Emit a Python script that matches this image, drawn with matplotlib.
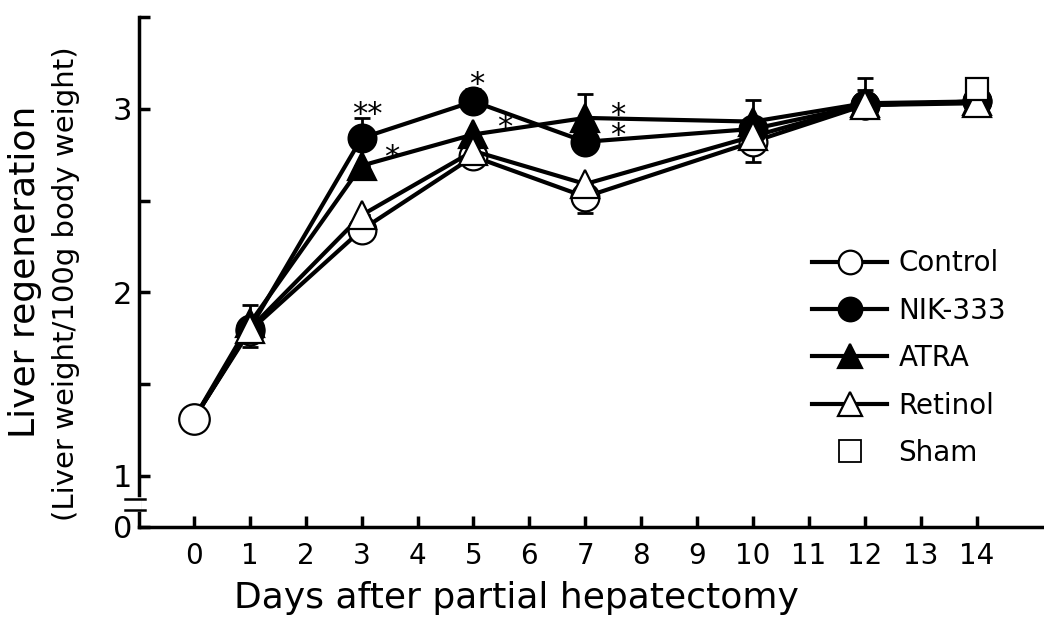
import numpy as np
from matplotlib import pyplot as plt
from matplotlib import transforms
from matplotlib.lines import Line2D

# data (liver weight / 100 g body weight)
days        = [0, 1, 3, 5, 7, 10, 12, 14]
control     = [1.31, 1.79, 2.34, 2.74, 2.52, 2.82, 3.02, 3.04]
nik333      = [1.31, 1.80, 2.84, 3.04, 2.82, 2.89, 3.02, 3.04]
atra        = [1.31, 1.83, 2.69, 2.86, 2.95, 2.93, 3.03, 3.04]
retinol     = [1.31, 1.80, 2.42, 2.77, 2.59, 2.85, 3.02, 3.03]
sham_day    = [14]
sham        = [3.11]

# one-sided error bars (SE)
control_lo  = [0, 0.09, 0.05, 0, 0.09, 0.11, 0, 0]
nik333_hi   = [0, 0, 0.11, 0.07, 0, 0, 0, 0]
atra_hi     = [0, 0.10, 0, 0, 0.13, 0.12, 0.14, 0]
retinol_hi  = [0, 0, 0, 0, 0, 0, 0.08, 0]
zeros       = [0] * len(days)

# significance marks (day 7 marks for ATRA and NIK-333 stacked in one text)
star_x      = [3.11, 3.54, 5.06, 5.56, 7.58]
star_y      = [2.97, 2.735, 3.13, 2.90, 2.91]
star_txt    = ['**', '*', '*', '*', '*\n*']

x_ticks     = list(range(0, 15))
y_bottom    = 0.721          # position of the "0" below the axis break

fig = plt.figure(figsize=(10.44, 6.2), dpi=100)
ax  = fig.add_axes([0.1331, 0.15, 0.8669, 0.8226])

lw, ms, mew = 3, 20, 1.6
err_kw = dict(fmt='none', ecolor='black', elinewidth=2, capsize=6, capthick=2, zorder=1)

ax.errorbar(days, control, yerr=[control_lo, zeros], **err_kw)
ax.errorbar(days, nik333,  yerr=[zeros, nik333_hi], **err_kw)
ax.errorbar(days, atra,    yerr=[zeros, atra_hi], **err_kw)
ax.errorbar(days, retinol, yerr=[zeros, retinol_hi], **err_kw)

later = list(range(1, len(days)))
ax.plot(days, control, color='k', lw=lw, marker='o', ms=ms, mfc='white', mec='k', mew=mew, zorder=3)
ax.plot(days, nik333,  color='k', lw=lw, marker='o', ms=ms, mfc='black', mec='k', mew=mew,
        markevery=later, zorder=4)
ax.plot(days, atra,    color='k', lw=lw, marker='^', ms=ms, mfc='black', mec='k', mew=mew,
        markevery=later, zorder=5)
ax.plot(days, retinol, color='k', lw=lw, marker='^', ms=ms, mfc='white', mec='k', mew=mew,
        markevery=later, zorder=6)
ax.plot([days[0]], [control[0]], ls='none', marker='o', ms=22, mfc='white', mec='k', mew=mew, zorder=7)
ax.plot(sham_day, sham, ls='none', marker='s', ms=16, mfc='white', mec='k', mew=mew, zorder=7)

for sx, sy, st in zip(star_x, star_y, star_txt):
    ax.text(sx, sy, st, fontsize=22, ha='center', va='center', linespacing=0.62, zorder=8)

# axes
ax.set_xlim(-0.98, 15.2)
ax.set_ylim(y_bottom, 3.5)
ax.set_xticks(x_ticks)
ax.set_xticklabels([str(d) for d in x_ticks], fontsize=20)
ax.set_yticks([y_bottom, 1, 1.5, 2, 2.5, 3, 3.5])
ax.set_yticklabels(['0', '1', '', '2', '', '3', ''], fontsize=22)
ax.tick_params(axis='x', direction='in', length=8, width=2.5, pad=11)
ax.tick_params(axis='y', direction='in', length=8, width=2.5, pad=5)
for s in ['top', 'right']:
    ax.spines[s].set_visible(False)
for s in ['left', 'bottom']:
    ax.spines[s].set_linewidth(2.5)

# axis break on the y axis
trans = transforms.blended_transform_factory(ax.transAxes, ax.transData)
ax.add_line(Line2D([0, 0], [0.818, 0.870], transform=trans, color='white', lw=4, clip_on=False, zorder=10))
for yb in [0.814, 0.874]:
    ax.add_line(Line2D([-0.0155, 0.0066], [yb, yb], transform=trans, color='black', lw=1.8,
                       clip_on=False, zorder=11))

# labels
fig.text(516 / 1044, 1 - 598 / 620, 'Days after partial hepatectomy', fontsize=26, ha='center', va='center')
fig.text(25 / 1044, 1 - 272 / 620, 'Liver regeneration', fontsize=26, rotation=90, ha='center', va='center')
fig.text(66 / 1044, 1 - 284 / 620, '(Liver weight/100g body weight)', fontsize=21, rotation=90,
         ha='center', va='center')

# legend
handles = [
    Line2D([], [], color='k', lw=lw, marker='o', ms=17, mfc='white', mec='k', mew=mew),
    Line2D([], [], color='k', lw=lw, marker='o', ms=17, mfc='black', mec='k', mew=mew),
    Line2D([], [], color='k', lw=lw, marker='^', ms=17, mfc='black', mec='k', mew=mew),
    Line2D([], [], color='k', lw=lw, marker='^', ms=17, mfc='white', mec='k', mew=mew),
    Line2D([], [], ls='none', marker='s', ms=16, mfc='white', mec='k', mew=1.3),
]
labels = ['Control', 'NIK-333', 'ATRA', 'Retinol', 'Sham']
ax.legend(handles, labels, loc='center left', bbox_to_anchor=(0.744, 0.331), frameon=False,
          fontsize=20, handlelength=2.7, handletextpad=0.4, labelspacing=0.7,
          borderpad=0, borderaxespad=0)

fig.savefig('out.png', dpi=100)
